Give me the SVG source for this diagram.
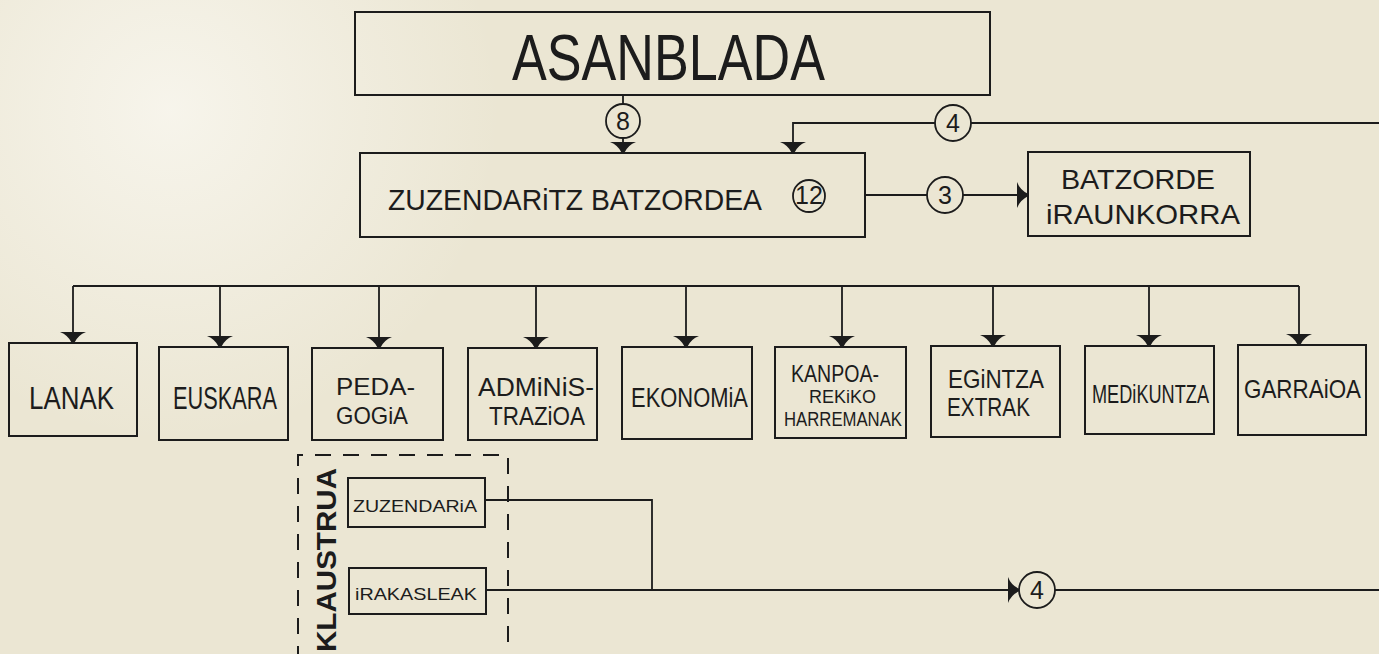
<svg xmlns="http://www.w3.org/2000/svg" xmlns:xlink="http://www.w3.org/1999/xlink" width="1379" height="654" viewBox="0 0 1379 654">
<style>
.bx{fill:none;stroke:#1c1c1c;stroke-width:2}
.dash{fill:none;stroke:#1c1c1c;stroke-width:2;stroke-dasharray:16 12}
.ln{fill:none;stroke:#1c1c1c;stroke-width:1.8}
.cir{fill:none;stroke:#1c1c1c;stroke-width:1.8}
.t{font-family:"Liberation Sans",Arial,sans-serif;fill:#1c1c1c}
.num{font-family:"Liberation Sans",Arial,sans-serif;fill:#1c1c1c;font-size:25px;text-anchor:middle}
.ah{fill:#1c1c1c}
</style>
<defs>
<radialGradient id="glow" cx="170" cy="110" r="330" gradientUnits="userSpaceOnUse">
<stop offset="0" stop-color="#f8f6ee" stop-opacity="0.9"/>
<stop offset="1" stop-color="#f8f6ee" stop-opacity="0"/>
</radialGradient>
<path id="ahd" d="M -13 -11 L 13 -11 Q 5 -8 1.2 0 L -1.2 0 Q -5 -8 -13 -11 Z"/>
</defs>
<rect x="0" y="0" width="1379" height="654" fill="#ebe6d3"/>
<rect x="0" y="0" width="1379" height="654" fill="url(#glow)"/>

<g id="connectors">
  <path class="ln" d="M623 95 V104 M623 138 V145"/>
  <circle class="cir" cx="623" cy="121" r="17"/>
  <text class="num" x="623" y="130">8</text>
  <use href="#ahd" class="ah" x="623" y="153"/>
  <path class="ln" d="M1379 123 H971 M935 123 H793 V145"/>
  <circle class="cir" cx="953" cy="123" r="18"/>
  <text class="num" x="953" y="132">4</text>
  <use href="#ahd" class="ah" x="793" y="153"/>
  <path class="ln" d="M865 195 H927 M963 195 H1020"/>
  <circle class="cir" cx="945" cy="195" r="18"/>
  <text class="num" x="945" y="204">3</text>
  <use href="#ahd" class="ah" transform="translate(1028 195) rotate(-90)"/>
  <path class="ln" d="M73 286 H1299 M73 286 V335 M220 286 V339 M379 286 V340 M536 286 V340 M686 286 V339 M842 286 V339 M993 286 V338 M1149 286 V338 M1299 286 V337"/>
  <use href="#ahd" class="ah" x="73" y="343"/>
  <use href="#ahd" class="ah" x="220" y="347"/>
  <use href="#ahd" class="ah" x="379" y="348"/>
  <use href="#ahd" class="ah" x="536" y="348"/>
  <use href="#ahd" class="ah" x="686" y="347"/>
  <use href="#ahd" class="ah" x="842" y="347"/>
  <use href="#ahd" class="ah" x="993" y="346"/>
  <use href="#ahd" class="ah" x="1149" y="346"/>
  <use href="#ahd" class="ah" x="1299" y="345"/>
  <path class="ln" d="M485 500 H652 V590 M486 590 H1011 M1055 590 H1379"/>
  <use href="#ahd" class="ah" transform="translate(1019 590) rotate(-90)"/>
  <circle class="cir" cx="1037" cy="590" r="18"/>
  <text class="num" x="1037" y="599">4</text>
</g>

<g id="node-asanblada">
  <rect class="bx" x="355" y="12" width="635" height="83"/>
  <text class="t" x="512" y="80" font-size="64" textLength="313" lengthAdjust="spacingAndGlyphs">ASANBLADA</text>
</g>

<g id="node-zuzendaritz-batzordea">
  <rect class="bx" x="360" y="153" width="505" height="84"/>
  <text class="t" x="388" y="210" font-size="30" textLength="374" lengthAdjust="spacingAndGlyphs">ZUZENDARiTZ BATZORDEA</text>
  <circle class="cir" cx="809" cy="196" r="16"/>
  <text class="num" x="809" y="204" font-size="21">12</text>
</g>

<g id="node-batzorde-iraunkorra">
  <rect class="bx" x="1028" y="152" width="222" height="84"/>
  <text class="t" x="1061" y="189" font-size="28" textLength="154" lengthAdjust="spacingAndGlyphs">BATZORDE</text>
  <text class="t" x="1046" y="224" font-size="28" textLength="194" lengthAdjust="spacingAndGlyphs">iRAUNKORRA</text>
</g>

<g id="node-lanak">
  <rect class="bx" x="9" y="343" width="128" height="93"/>
  <text class="t" x="29" y="409" font-size="31" textLength="85" lengthAdjust="spacingAndGlyphs">LANAK</text>
</g>
<g id="node-euskara">
  <rect class="bx" x="159" y="347" width="129" height="93"/>
  <text class="t" x="173" y="409" font-size="31" textLength="104" lengthAdjust="spacingAndGlyphs">EUSKARA</text>
</g>
<g id="node-pedagogia">
  <rect class="bx" x="312" y="348" width="131" height="92"/>
  <text class="t" x="336" y="395" font-size="24" textLength="79" lengthAdjust="spacingAndGlyphs">PEDA-</text>
  <text class="t" x="336" y="424" font-size="24" textLength="72" lengthAdjust="spacingAndGlyphs">GOGiA</text>
</g>
<g id="node-administrazioa">
  <rect class="bx" x="468" y="348" width="129" height="92"/>
  <text class="t" x="478" y="396" font-size="25" textLength="116" lengthAdjust="spacingAndGlyphs">ADMiNiS-</text>
  <text class="t" x="489" y="425" font-size="25" textLength="96" lengthAdjust="spacingAndGlyphs">TRAZiOA</text>
</g>
<g id="node-ekonomia">
  <rect class="bx" x="622" y="347" width="130" height="92"/>
  <text class="t" x="631" y="407" font-size="27" textLength="117" lengthAdjust="spacingAndGlyphs">EKONOMiA</text>
</g>
<g id="node-kanpoarekiko-harremanak">
  <rect class="bx" x="775" y="347" width="131" height="91"/>
  <text class="t" x="791" y="382" font-size="23" textLength="88" lengthAdjust="spacingAndGlyphs">KANPOA-</text>
  <text class="t" x="809" y="403" font-size="18" textLength="67" lengthAdjust="spacingAndGlyphs">REKiKO</text>
  <text class="t" x="784" y="426" font-size="20" textLength="118" lengthAdjust="spacingAndGlyphs">HARREMANAK</text>
</g>
<g id="node-egintza-extrak">
  <rect class="bx" x="931" y="346" width="129" height="91"/>
  <text class="t" x="948" y="388" font-size="26" textLength="96" lengthAdjust="spacingAndGlyphs">EGiNTZA</text>
  <text class="t" x="947" y="416" font-size="26" textLength="83" lengthAdjust="spacingAndGlyphs">EXTRAK</text>
</g>
<g id="node-medikuntza">
  <rect class="bx" x="1085" y="346" width="129" height="88"/>
  <text class="t" x="1092" y="403" font-size="25" textLength="117" lengthAdjust="spacingAndGlyphs">MEDiKUNTZA</text>
</g>
<g id="node-garraioa">
  <rect class="bx" x="1238" y="345" width="128" height="90"/>
  <text class="t" x="1244" y="398" font-size="25" textLength="117" lengthAdjust="spacingAndGlyphs">GARRAiOA</text>
</g>

<g id="node-klaustrua">
  <path class="dash" d="M298 690 V455 H508 V690"/>
  <text class="t" transform="translate(336 652) rotate(-90)" x="0" y="0" font-size="27" font-weight="bold" textLength="184" lengthAdjust="spacingAndGlyphs">KLAUSTRUA</text>
  <g id="node-zuzendaria">
    <rect class="bx" x="348" y="478" width="137" height="49"/>
    <text class="t" x="353" y="512" font-size="17" textLength="124" lengthAdjust="spacingAndGlyphs">ZUZENDARiA</text>
  </g>
  <g id="node-irakasleak">
    <rect class="bx" x="349" y="568" width="137" height="46"/>
    <text class="t" x="355" y="600" font-size="17" textLength="122" lengthAdjust="spacingAndGlyphs">iRAKASLEAK</text>
  </g>
</g>
</svg>
